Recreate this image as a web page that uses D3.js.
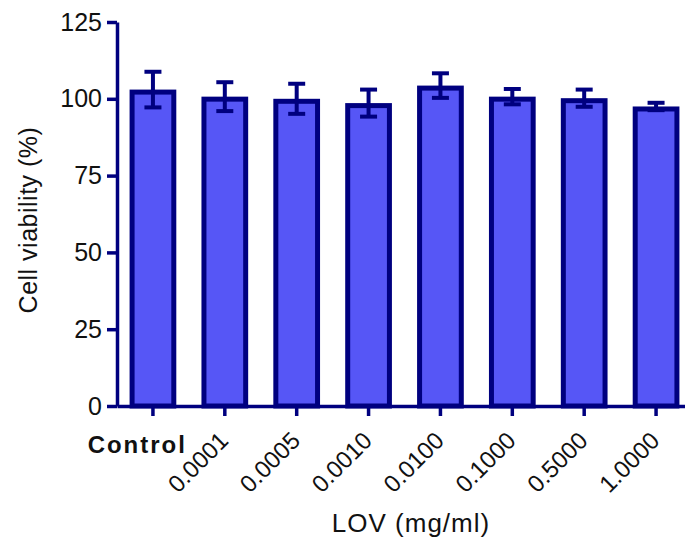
<!DOCTYPE html>
<html>
<head>
<meta charset="utf-8">
<script src="https://d3js.org/d3.v7.min.js"></script>
<style>
  body { margin: 0; background: #fff; }
  text { font-family: "Liberation Sans", Arial, sans-serif; fill: #111; }
</style>
</head>
<body>
<div id="chart"></div>
<script>
var categories = ["Control", "0.0001", "0.0005", "0.0010", "0.0100", "0.1000", "0.5000", "1.0000"];
var means = [103.0, 100.7, 100.0, 98.6, 104.3, 100.7, 100.2, 97.5];
var errors = [5.8, 4.7, 4.9, 4.4, 4.0, 2.5, 2.8, 1.2];
var yTicks = [0, 25, 50, 75, 100, 125];

(function() {
  var margin = { top: 22, left: 117, right: 0, bottom: 141 },
  width = 685 - margin.left - margin.right,
  height = 547 - margin.top - margin.bottom;

  var navy = "#00007f",
      fillBlue = "#5656f6";

  var svg = d3.select("#chart")
        .append("svg")
        .attr("width", 685)
        .attr("height", 547)
        .append("g")
        .attr("transform", "translate(" + margin.left + "," + margin.top + ")");

  var datapoints = categories.map(function(c, i) {
    return { name: c, mean: means[i], err: errors[i] };
  });

  // band scale runs a little past the right edge, like the original
  var xPositionScale = d3.scaleBand()
    .domain(categories)
    .range([0, 575])
    .paddingInner(0.35)
    .paddingOuter(0.175);

  var yPositionScale = d3.scaleLinear()
    .domain([0, 125])
    .range([height, 0]);

  var bw = xPositionScale.bandwidth();
  var sw = 5;

  // bars (stroke kept inside the bar outline)
  svg.selectAll(".bar")
    .data(datapoints)
    .enter().append("rect")
    .attr("class", "bar")
    .attr("x", function(d) { return xPositionScale(d.name) + sw / 2; })
    .attr("width", bw - sw)
    .attr("y", function(d) { return yPositionScale(d.mean) + sw / 2; })
    .attr("height", function(d) { return height - yPositionScale(d.mean) - sw / 2; })
    .attr("fill", fillBlue)
    .attr("stroke", navy)
    .attr("stroke-width", sw);

  // error bars
  var capW = 17;
  var eb = svg.selectAll(".err")
    .data(datapoints)
    .enter().append("g")
    .attr("class", "err")
    .attr("stroke", navy)
    .attr("stroke-width", 4);

  eb.append("line")
    .attr("x1", function(d) { return xPositionScale(d.name) + bw / 2; })
    .attr("x2", function(d) { return xPositionScale(d.name) + bw / 2; })
    .attr("y1", function(d) { return yPositionScale(d.mean + d.err); })
    .attr("y2", function(d) { return yPositionScale(d.mean - d.err); });

  eb.selectAll(".cap")
    .data(function(d) { return [[d, d.mean + d.err], [d, d.mean - d.err]]; })
    .enter().append("line")
    .attr("x1", function(p) { return xPositionScale(p[0].name) + bw / 2 - capW / 2; })
    .attr("x2", function(p) { return xPositionScale(p[0].name) + bw / 2 + capW / 2; })
    .attr("y1", function(p) { return yPositionScale(p[1]); })
    .attr("y2", function(p) { return yPositionScale(p[1]); });

  // axes
  var xAxis = d3.axisBottom(xPositionScale).tickSize(10).tickSizeOuter(0).tickFormat("");
  var xg = svg.append("g")
    .attr("class", "axis x-axis")
    .attr("transform", "translate(0," + height + ")")
    .call(xAxis);

  var yAxis = d3.axisLeft(yPositionScale).tickValues(yTicks).tickSize(10).tickSizeOuter(0).tickPadding(5);
  var yg = svg.append("g")
    .attr("class", "axis y-axis")
    .call(yAxis);

  svg.selectAll(".axis path, .axis line")
    .attr("stroke", navy)
    .attr("stroke-width", 3.5);

  yg.selectAll("text")
    .attr("font-size", "25px")
    .style("fill", "#111");

  // category labels: Control flat and bold, the rest at 45 degrees
  xg.selectAll(".tick")
    .append("text")
    .attr("text-anchor", "end")
    .attr("font-size", "24px")
    .style("fill", "#111")
    .each(function(d) {
      var t = d3.select(this);
      if (d === "Control") {
        t.attr("font-weight", "bold")
          .attr("letter-spacing", "2px")
          .attr("transform", "translate(34,47)");
      } else {
        t.attr("transform", "translate(5,36) rotate(-45)");
      }
    })
    .text(function(d) { return d; });

  // axis titles
  svg.append("text")
    .attr("text-anchor", "middle")
    .attr("font-size", "25px")
    .attr("letter-spacing", "0.5px")
    .attr("transform", "translate(-80," + (220 - margin.top) + ") rotate(-90)")
    .text("Cell viability (%)");

  svg.append("text")
    .attr("text-anchor", "middle")
    .attr("font-size", "26px")
    .attr("letter-spacing", "1px")
    .attr("x", 411 - margin.left)
    .attr("y", 532 - margin.top)
    .text("LOV (mg/ml)");
})();
</script>
</body>
</html>
